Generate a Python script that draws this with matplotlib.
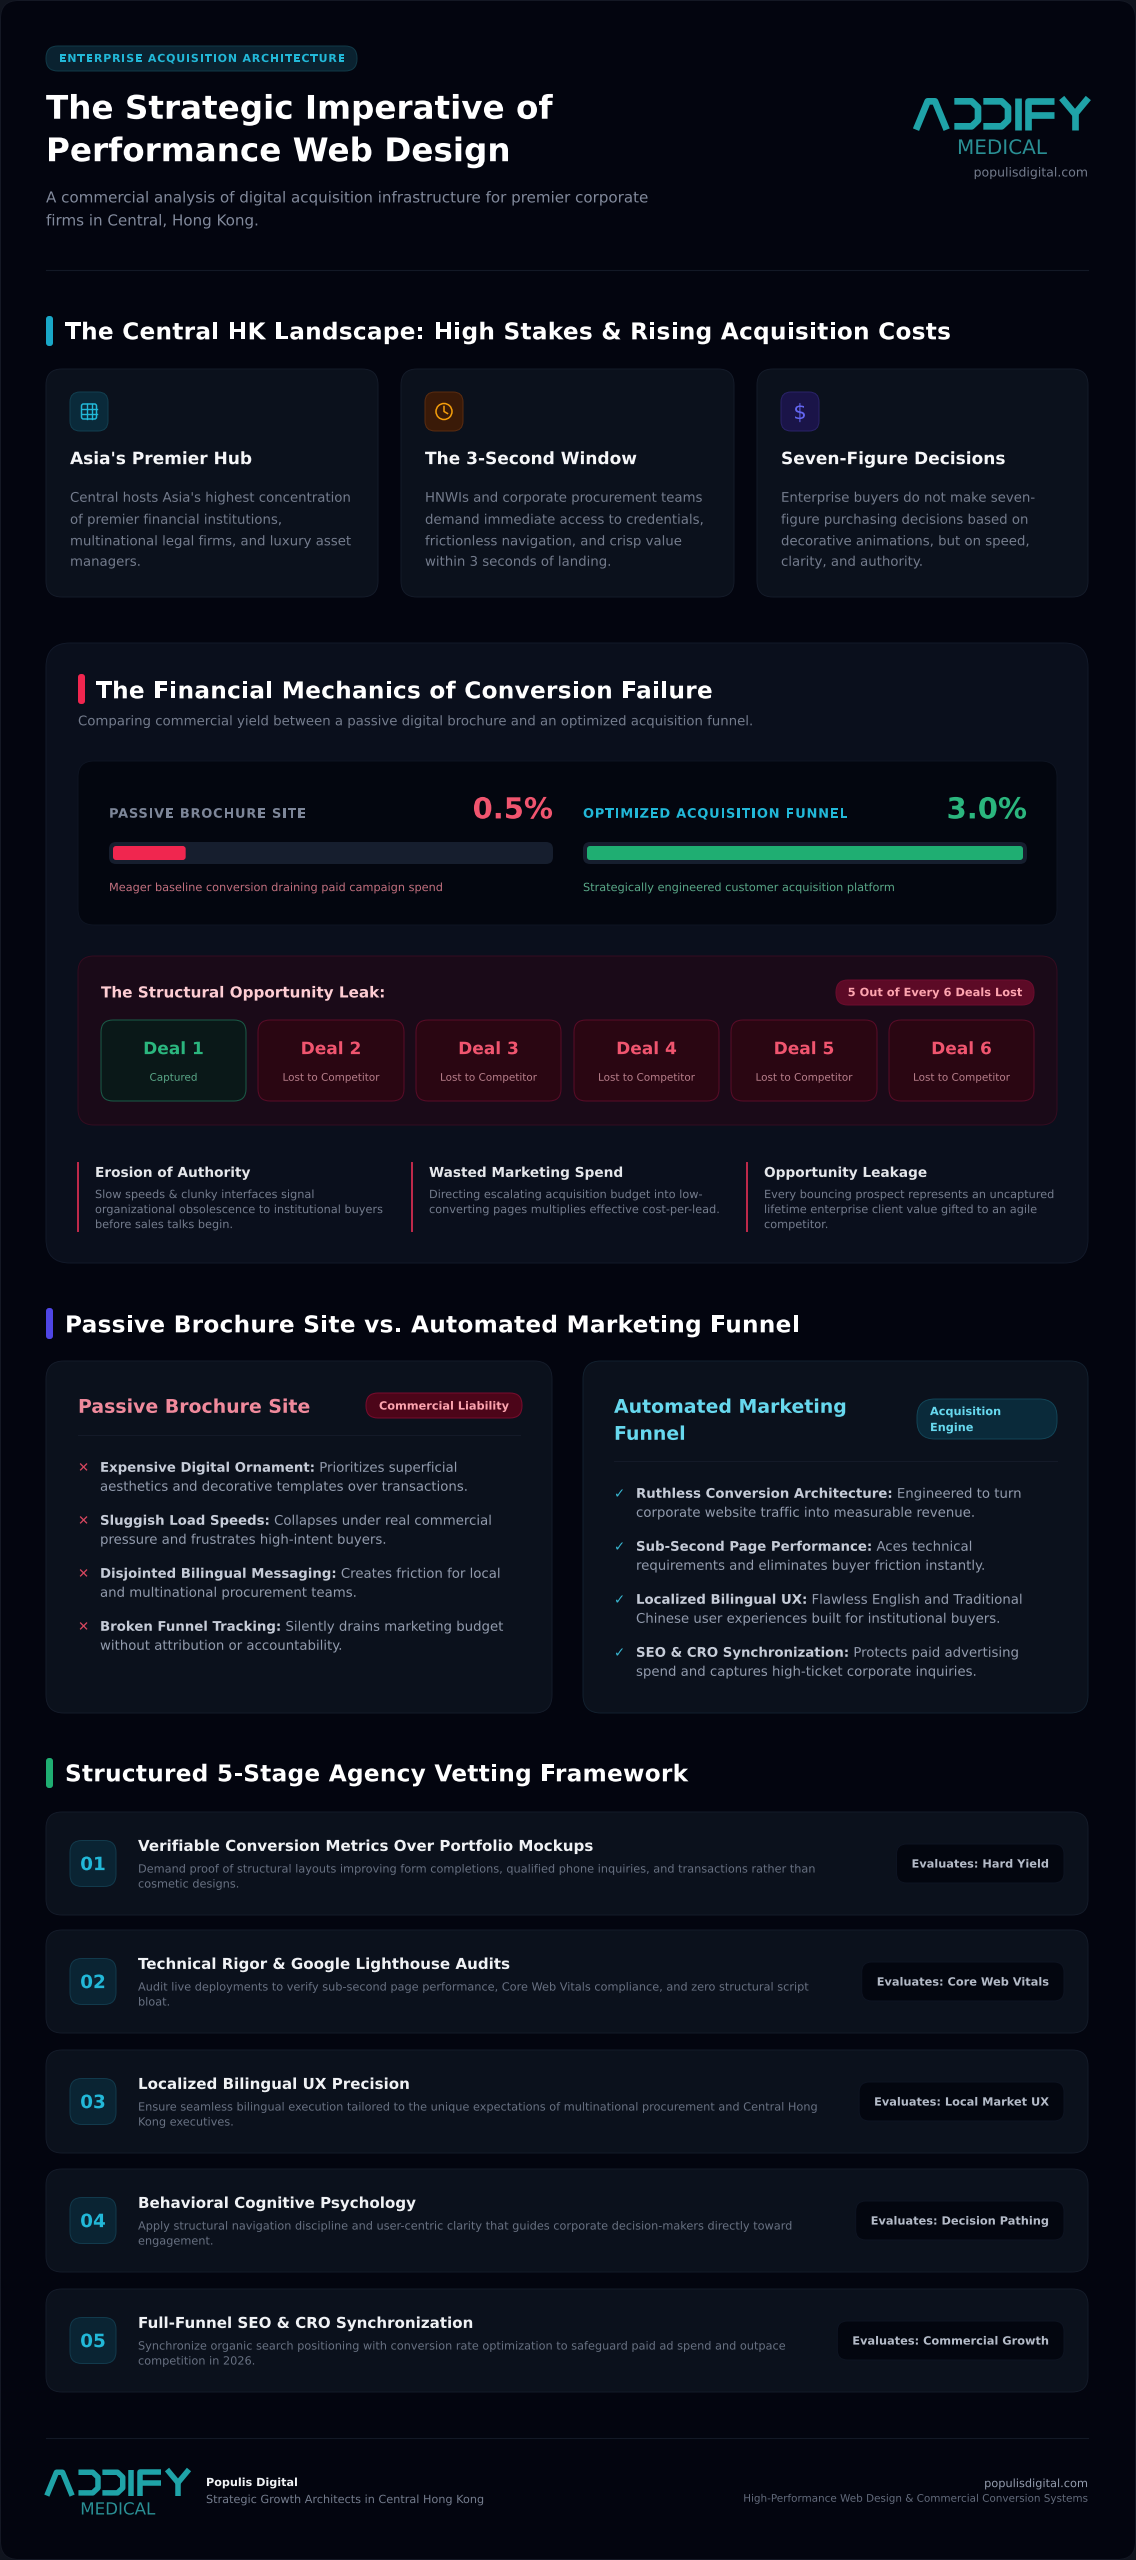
import matplotlib
matplotlib.use("Agg")
import matplotlib.pyplot as plt
import matplotlib.patheffects as pe
from matplotlib.patches import FancyBboxPatch, PathPatch, Circle
from matplotlib.path import Path
from matplotlib.font_manager import FontProperties
from matplotlib.textpath import text_to_path

plt.rcParams['font.family'] = ['DejaVu Sans']

# Text content and values
tag_text = "ENTERPRISE ACQUISITION ARCHITECTURE"
title_lines = ["The Strategic Imperative of", "Performance Web Design"]
subtitle_lines = ["A commercial analysis of digital acquisition infrastructure for premier corporate",
                  "firms in Central, Hong Kong."]
section_titles = ["The Central HK Landscape: High Stakes & Rising Acquisition Costs",
                  "Passive Brochure Site vs. Automated Marketing Funnel",
                  "Structured 5-Stage Agency Vetting Framework"]

hub_titles = ["Asia's Premier Hub", "The 3-Second Window", "Seven-Figure Decisions"]
hub_bodies = [
    ["Central hosts Asia's highest concentration", "of premier financial institutions,",
     "multinational legal firms, and luxury asset", "managers."],
    ["HNWIs and corporate procurement teams", "demand immediate access to credentials,",
     "frictionless navigation, and crisp value", "within 3 seconds of landing."],
    ["Enterprise buyers do not make seven-", "figure purchasing decisions based on",
     "decorative animations, but on speed,", "clarity, and authority."],
]

conv_labels = ["PASSIVE BROCHURE SITE", "OPTIMIZED ACQUISITION FUNNEL"]
conv_values = [0.5, 3.0]
conv_notes = ["Meager baseline conversion draining paid campaign spend",
              "Strategically engineered customer acquisition platform"]

deal_names = ["Deal 1", "Deal 2", "Deal 3", "Deal 4", "Deal 5", "Deal 6"]
deal_status = ["Captured"] + ["Lost to Competitor"] * 5

impact_titles = ["Erosion of Authority", "Wasted Marketing Spend", "Opportunity Leakage"]
impact_bodies = [
    ["Slow speeds & clunky interfaces signal", "organizational obsolescence to institutional buyers",
     "before sales talks begin."],
    ["Directing escalating acquisition budget into low-", "converting pages multiplies effective cost-per-lead."],
    ["Every bouncing prospect represents an uncaptured", "lifetime enterprise client value gifted to an agile",
     "competitor."],
]

passive_items = [
    ("Expensive Digital Ornament:", " Prioritizes superficial", "aesthetics and decorative templates over transactions."),
    ("Sluggish Load Speeds:", " Collapses under real commercial", "pressure and frustrates high-intent buyers."),
    ("Disjointed Bilingual Messaging:", " Creates friction for local", "and multinational procurement teams."),
    ("Broken Funnel Tracking:", " Silently drains marketing budget", "without attribution or accountability."),
]
funnel_items = [
    ("Ruthless Conversion Architecture:", " Engineered to turn", "corporate website traffic into measurable revenue."),
    ("Sub-Second Page Performance:", " Aces technical", "requirements and eliminates buyer friction instantly."),
    ("Localized Bilingual UX:", " Flawless English and Traditional", "Chinese user experiences built for institutional buyers."),
    ("SEO & CRO Synchronization:", " Protects paid advertising", "spend and captures high-ticket corporate inquiries."),
]

stage_nums = ["01", "02", "03", "04", "05"]
stage_titles = ["Verifiable Conversion Metrics Over Portfolio Mockups",
                "Technical Rigor & Google Lighthouse Audits",
                "Localized Bilingual UX Precision",
                "Behavioral Cognitive Psychology",
                "Full-Funnel SEO & CRO Synchronization"]
stage_bodies = [
    ["Demand proof of structural layouts improving form completions, qualified phone inquiries, and transactions rather than", "cosmetic designs."],
    ["Audit live deployments to verify sub-second page performance, Core Web Vitals compliance, and zero structural script", "bloat."],
    ["Ensure seamless bilingual execution tailored to the unique expectations of multinational procurement and Central Hong", "Kong executives."],
    ["Apply structural navigation discipline and user-centric clarity that guides corporate decision-makers directly toward", "engagement."],
    ["Synchronize organic search positioning with conversion rate optimization to safeguard paid ad spend and outpace", "competition in 2026."],
]
stage_tags = ["Evaluates: Hard Yield", "Evaluates: Core Web Vitals", "Evaluates: Local Market UX",
              "Evaluates: Decision Pathing", "Evaluates: Commercial Growth"]

# Colours
BG = "#03050f"
CARD = "#0b111c"
EDGE = "#141b29"
GREY = "#747c8d"
CYAN = "#22b8d8"
RED = "#f0556f"
GREEN = "#2bb67e"
TEAL = "#1fa3a8"

fig = plt.figure(figsize=(11.36, 25.6), dpi=100, facecolor="#10141e")
ax = fig.add_axes([0, 0, 1, 1])
ax.set_xlim(0, 1136)
ax.set_ylim(2560, 0)
ax.axis("off")


def box(x0, y0, x1, y1, r, fc, ec=None, lw=1.0, z=1):
    p = FancyBboxPatch((x0, y0), x1 - x0, y1 - y0, boxstyle=f"round,pad=0,rounding_size={r}",
                       fc=fc, ec=ec if ec else "none", lw=lw * 0.72, zorder=z)
    ax.add_patch(p)


# exact advance width, agg would snap font sizes to whole pixels
def width(s, px, weight="normal"):
    prop = FontProperties(family="DejaVu Sans", size=px, weight=weight)
    return text_to_path.get_text_width_height_descent(s, prop, False)[0]


# yc is the visual middle of the line, converted to a baseline here
def txt(x, yc, s, px, color, weight="normal", ha="left"):
    if ha == "right":
        x -= width(s, px, weight)
    elif ha == "center":
        x -= width(s, px, weight) / 2
    ax.text(x, yc + 0.36 * px, s, fontsize=px * 0.72, color=color, fontweight=weight, ha="left", va="baseline",
            zorder=5, path_effects=[pe.Normal()])


def spaced(x, yc, s, px, color, spacing, weight="bold"):
    for i, ch in enumerate(s):
        cx = x + width(s[:i + 1], px, weight) - width(ch, px, weight) + i * spacing
        txt(cx, yc, ch, px, color, weight)


def section(y0, y1, yc, x, s, color, gap=12):
    box(x, y0, x + 7, y1, 3, color, z=3)
    spaced(x + 7 + gap, yc, s, 23.2, "#ffffff", 0.27)


def logo(x, y, scale, medical_px, medical_off):
    strokes = [
        [(3, 95), (38, 10), (60, 10), (95, 95)],
        [(118, 10), (170, 10), (189, 28), (189, 67), (170, 85), (118, 85)],
        [(205, 10), (260, 10), (279, 28), (279, 67), (260, 85), (205, 85)],
        [(308, 0), (308, 95)],
        [(340, 95), (340, 10), (418, 10)],
        [(340, 50), (418, 50)],
        [(440, 0), (480, 48), (520, 0)],
        [(480, 48), (480, 95)],
    ]
    for pts in strokes:
        verts = [(x + px * scale, y + py * scale) for px, py in pts]
        ax.add_patch(PathPatch(Path(verts), fc="none", ec=TEAL, lw=20 * scale * 0.72,
                               capstyle="butt", joinstyle="round", zorder=5))
    txt(x + 261 * scale, y + medical_off - 0.36 * medical_px, "MEDICAL", medical_px, "#2a8f94", ha="center")


# page
box(0.5, 0.5, 1135.5, 2559.5, 18, BG, "#141824", 1.0, z=0)

# header
box(46, 46, 357, 71, 12, "#0a2230", "#113a48")
spaced(59, 58, tag_text, 11, "#22b8d8", 0.8)
txt(46, 107, title_lines[0], 32.6, "#ffffff", "bold")
txt(46, 149.5, title_lines[1], 32.6, "#ffffff", "bold")
txt(46, 197, subtitle_lines[0], 15.1, "#828a9c")
txt(46, 220, subtitle_lines[1], 15.1, "#828a9c")
logo(915, 98, 1 / 3, 20, 56)
txt(1088, 172, "populisdigital.com", 12.5, GREY, ha="right")
ax.plot([46, 1088], [270, 270], color="#131926", lw=0.8, zorder=2)

# landscape cards
section(316, 346, 331, 46, section_titles[0], "#19a7c7")
card_x = [(46, 378), (401, 734), (757, 1088)]
icon_fc = ["#0a2a3a", "#3a1a08", "#1a1448"]
icon_ec = ["#123f50", "#5a2c10", "#2a2368"]
for i, (x0, x1) in enumerate(card_x):
    box(x0, 369, x1, 597, 16, CARD, EDGE)
    box(x0 + 24, 392, x0 + 62, 431, 10, icon_fc[i], icon_ec[i])
    txt(x0 + 24, 458, hub_titles[i], 17, "#f5f6f8", "bold")
    for yc, line in zip([497, 519, 540.5, 561], hub_bodies[i]):
        txt(x0 + 24, yc, line, 13.3, GREY)

# icons
gx, gy = 46 + 43, 411.5
box(gx - 7.5, gy - 7.5, gx + 7.5, gy + 7.5, 2, "none", CYAN, 1.5, z=4)
for d in (-2.5, 2.5):
    ax.plot([gx + d, gx + d], [gy - 7.5, gy + 7.5], color=CYAN, lw=1.0, zorder=4)
    ax.plot([gx - 7.5, gx + 7.5], [gy + d, gy + d], color=CYAN, lw=1.0, zorder=4)
cx, cy = 401 + 43, 411.5
ax.add_patch(Circle((cx, cy), 8, fc="none", ec="#f59e0b", lw=1.1, zorder=4))
ax.plot([cx, cx, cx + 3.5], [cy - 5, cy, cy + 2], color="#f59e0b", lw=1.1, zorder=4)
txt(757 + 43, 411.5, "$", 21, "#6366f1", ha="center")

# financial panel
box(46, 643, 1088, 1263, 24, "#0a0f1c", "#121929")
box(78, 674, 85, 704, 3, "#f0264f", z=3)
spaced(96, 690, "The Financial Mechanics of Conversion Failure", 23.2, "#ffffff", 0.27)
txt(78, 720.5, "Comparing commercial yield between a passive digital brochure and an optimized acquisition funnel.", 13.3, GREY)

box(78, 761, 1057, 925, 16, "#03060f", "#0e1422")
conv_max = max(conv_values)
conv_x = [(109, 553), (583, 1027)]
conv_colors = [("#7d8699", RED, "#f0264f", "#c2707f"), (CYAN, GREEN, "#1fae72", "#5aa888")]
for i, (x0, x1) in enumerate(conv_x):
    lab, val, bar, note = conv_colors[i]
    spaced(x0, 813, conv_labels[i], 13, lab, 0.75)
    txt(x1, 808, f"{conv_values[i]:.1f}%", 29, val, "bold", ha="right")
    box(x0, 842, x1, 864, 7, "#161e2e")
    inner = (x1 - x0 - 8) * conv_values[i] / conv_max
    box(x0 + 4, 846, x0 + 4 + inner, 860, 3, bar, z=3)
    txt(x0, 887, conv_notes[i], 11.3, note)

# deal leak
box(78, 956, 1057, 1125, 16, "#1a0a18", "#340c20")
txt(101, 992, "The Structural Opportunity Leak:", 15.2, "#fecdd3", "bold")
box(836, 980, 1034, 1005, 12, "#5c0a26", "#6d0d2e")
txt(935, 992, "5 Out of Every 6 Deals Lost", 11.4, "#fda4af", "bold", ha="center")
deal_x = [(101, 246), (258, 404), (416, 561), (574, 719), (731, 877), (889, 1034)]
for i, (x0, x1) in enumerate(deal_x):
    if i == 0:
        box(x0, 1020, x1, 1101, 12, "#0a1818", "#1b5c48")
        c1, c2 = GREEN, "#5aa888"
    else:
        box(x0, 1020, x1, 1101, 12, "#2a0612", "#5a0c28")
        c1, c2 = RED, "#b87f8b"
    mid = (x0 + x1) / 2
    txt(mid, 1048, deal_names[i], 17, c1, "bold", ha="center")
    txt(mid, 1077, deal_status[i], 10.4, c2, ha="center")

for i, x in enumerate([78, 412, 747]):
    ax.plot([x, x], [1163, 1231], color="#c42a4c", lw=1.4, zorder=3)
    txt(x + 17, 1172, impact_titles[i], 13.7, "#e5e7eb", "bold")
    for yc, line in zip([1194, 1209, 1224], impact_bodies[i]):
        txt(x + 17, yc, line, 11.3, GREY)

# comparison
section(1308, 1339, 1324, 46, section_titles[1], "#4f46e5")
box(46, 1361, 552, 1713, 18, CARD, EDGE)
box(583, 1361, 1088, 1713, 18, CARD, "#12202e")
txt(78, 1406, "Passive Brochure Site", 18.9, "#f08a9c", "bold")
box(366, 1393, 522, 1418, 12, "#4c0519", "#7a0c2e")
txt(444, 1405.5, "Commercial Liability", 11.3, "#fda4af", "bold", ha="center")
ax.plot([78, 520], [1435, 1435], color="#141a28", lw=0.8, zorder=2)
txt(614, 1406, "Automated Marketing", 18.9, "#67d8ee", "bold")
txt(614, 1433, "Funnel", 18.9, "#67d8ee", "bold")
box(917, 1399, 1057, 1439, 18, "#0a2a3a", "#124456")
txt(930, 1411, "Acquisition", 11.3, "#67d8ee", "bold")
txt(930, 1427, "Engine", 11.3, "#67d8ee", "bold")
ax.plot([614, 1057], [1461, 1461], color="#141a28", lw=0.8, zorder=2)


def item_list(items, x, ys, mark, mark_color):
    for (head, rest, line2), yc in zip(items, ys):
        txt(x, yc, mark, 13.3, mark_color)
        txt(x + 22, yc, head, 13.3, "#c6ccd8", "bold")
        txt(x + 22 + width(head, 13.3, "bold"), yc, rest, 13.3, "#939cae")
        txt(x + 22, yc + 19, line2, 13.3, "#939cae")


item_list(passive_items, 78, [1467, 1520, 1573, 1626], "\u2715", "#d8475f")
item_list(funnel_items, 614, [1493, 1546, 1599, 1652], "\u2713", "#38b6d0")

# stages
section(1758, 1788, 1773, 46, section_titles[2], "#1fae72")
stage_top = [1812, 1930, 2050, 2169, 2289]
for i, y0 in enumerate(stage_top):
    y1 = y0 + 103
    mid = (y0 + y1) / 2
    box(46, y0, 1088, y1, 16, CARD, EDGE)
    box(70, mid - 23, 116, mid + 23, 12, "#0a2433", "#123a4c")
    txt(93, mid, stage_nums[i], 18.4, CYAN, "bold", ha="center")
    txt(138, mid - 18, stage_titles[i], 15.1, "#f0f2f5", "bold")
    txt(138, mid + 5, stage_bodies[i][0], 11.3, "#687182")
    txt(138, mid + 20, stage_bodies[i][1], 11.3, "#687182")
    tw = width(stage_tags[i], 11.35, "bold")
    box(1049 - tw - 15, mid - 19.5, 1064, mid + 19.5, 10, "#03060f", "#0e1422")
    txt(1049, mid, stage_tags[i], 11.35, "#b4bbc8", "bold", ha="right")

# footer
ax.plot([46, 1088], [2438, 2438], color="#131926", lw=0.8, zorder=2)
logo(46, 2469.5, 0.275, 16.7, 45)
txt(206, 2482, "Populis Digital", 11.2, "#f0f2f5", "bold")
txt(206, 2499, "Strategic Growth Architects in Central Hong Kong", 11.25, GREY)
txt(1088, 2483, "populisdigital.com", 11.35, "#939cae", ha="right")
txt(1088, 2498, "High-Performance Web Design & Commercial Conversion Systems", 10.4, "#636b7c", ha="right")

fig.savefig("out.png", dpi=100, facecolor=fig.get_facecolor())
